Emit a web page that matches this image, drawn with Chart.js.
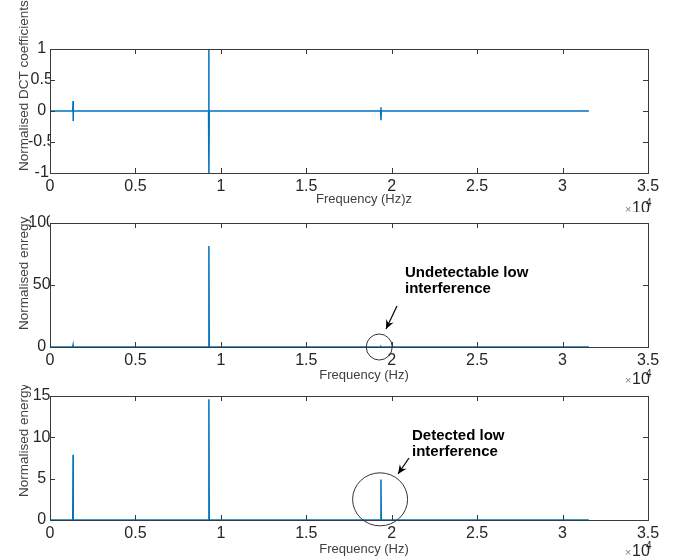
<!DOCTYPE html>
<html><head><meta charset="utf-8">
<script src="https://cdn.jsdelivr.net/npm/chart.js@4.4.1/dist/chart.umd.min.js"></script>
<style>
html,body{margin:0;padding:0;background:#fff;}
#wrap{position:relative;width:680px;height:560px;overflow:hidden;background:#fff;}
canvas{position:absolute;left:0;}
</style></head><body>
<div id="wrap">
<canvas id="c1" width="680" height="212" style="top:0px;width:680px;height:212px"></canvas>
<canvas id="c2" width="680" height="173" style="top:212px;width:680px;height:173px"></canvas>
<canvas id="c3" width="680" height="175" style="top:385px;width:680px;height:175px"></canvas>
</div>
<script>
// ---- data (frequency in Hz; axis shown in units of 10^4) ----
const freqHz           = [0, 1330, 1350, 1350, 1370, 9280, 9300, 9300, 9320, 19350, 19370, 19370, 19390, 31540];
const dctCoeff         = [0, 0, 0.16, -0.16, 0, 0, 1, -1, 0, 0, 0.06, -0.15, 0, 0];
const energyUndetected = [0, 0, 1.5, 1.5, 0, 0, 81.5, 81.5, 0, 0, 0.3, 0.3, 0, 0];
const energyDetected   = [0, 0, 7.9, 7.9, 0, 0, 14.6, 14.6, 0, 0, 4.9, 4.9, 0, 0];
const xTickValues = [0, 5000, 10000, 15000, 20000, 25000, 30000, 35000];
const xTickLabels = ['0', '0.5', '1', '1.5', '2', '2.5', '3', '3.5'];
const yTicksDct = [-1, -0.5, 0, 0.5, 1];
const yTicksEnergy1 = [0, 50, 100];
const yTicksEnergy2 = [0, 5, 10, 15];

const FONT = "'Liberation Sans', Arial, Helvetica, sans-serif";
const LINE = '#0072BD';
const AX = '#3a3a3a';

function decor(cfg) {
  return {
    id: 'decor',
    afterDraw(chart) {
      const ctx = chart.ctx, a = chart.chartArea;
      const xs = chart.scales.x, ys = chart.scales.y;
      ctx.save();
      ctx.strokeStyle = AX; ctx.lineWidth = 1;
      ctx.strokeRect(Math.round(a.left) + 0.5, Math.round(a.top) + 0.5, Math.round(a.right - a.left), Math.round(a.bottom - a.top));
      ctx.beginPath();
      xTickValues.forEach(v => {
        const px = Math.round(xs.getPixelForValue(v)) + 0.5;
        ctx.moveTo(px, a.bottom); ctx.lineTo(px, a.bottom - 5);
        ctx.moveTo(px, a.top); ctx.lineTo(px, a.top + 5);
      });
      cfg.yTicks.forEach(v => {
        const py = Math.round(ys.getPixelForValue(v)) + 0.5;
        ctx.moveTo(a.left, py); ctx.lineTo(a.left + 5, py);
        ctx.moveTo(a.right, py); ctx.lineTo(a.right - 5, py);
      });
      ctx.stroke();
      // y title
      ctx.fillStyle = '#404040';
      ctx.font = '13.5px ' + FONT;
      ctx.save();
      ctx.translate(28, cfg.yTitleBottom);
      ctx.rotate(-Math.PI / 2);
      ctx.textAlign = 'left'; ctx.textBaseline = 'alphabetic';
      ctx.fillText(cfg.yTitle, 0, 0);
      ctx.restore();
      // x title
      ctx.font = '13px ' + FONT;
      ctx.textAlign = 'center'; ctx.textBaseline = 'middle';
      ctx.fillText(cfg.xTitle, 364, a.bottom + cfg.xTitleOff);
      // x10^4 exponent
      const ey = a.bottom + cfg.expOff;
      ctx.textAlign = 'left';
      ctx.fillStyle = '#808080'; ctx.font = '11px ' + FONT;
      ctx.fillText('\u00d7', 625, ey + 1);
      ctx.fillStyle = '#262626'; ctx.font = '16px ' + FONT;
      ctx.fillText('10', 632, ey);
      ctx.font = '10px ' + FONT;
      ctx.fillText('4', 646, ey - 6);
      // annotation
      if (cfg.note) {
        const n = cfg.note;
        ctx.fillStyle = '#000';
        ctx.font = 'bold 15px ' + FONT;
        ctx.textAlign = 'left'; ctx.textBaseline = 'middle';
        ctx.fillText(n.lines[0], n.tx, n.ty);
        ctx.fillText(n.lines[1], n.tx, n.ty + 15.5);
        const cx = xs.getPixelForValue(n.cx), cy = ys.getPixelForValue(n.cy);
        ctx.strokeStyle = '#333'; ctx.lineWidth = 1;
        ctx.beginPath(); ctx.ellipse(cx, cy, n.rx, n.ry, 0, 0, Math.PI * 2); ctx.stroke();
        // arrow
        const [x1, y1, x2, y2] = n.arrow;
        ctx.strokeStyle = '#000'; ctx.lineWidth = 1.2;
        ctx.beginPath(); ctx.moveTo(x1, y1); ctx.lineTo(x2, y2); ctx.stroke();
        const ang = Math.atan2(y2 - y1, x2 - x1), L = 10, W = 0.42;
        ctx.fillStyle = '#000';
        ctx.beginPath();
        ctx.moveTo(x2, y2);
        ctx.lineTo(x2 - L * Math.cos(ang - W), y2 - L * Math.sin(ang - W));
        ctx.lineTo(x2 - L * 0.6 * Math.cos(ang), y2 - L * 0.6 * Math.sin(ang));
        ctx.lineTo(x2 - L * Math.cos(ang + W), y2 - L * Math.sin(ang + W));
        ctx.closePath(); ctx.fill();
      }
      ctx.restore();
    }
  };
}

function build(id, cfg) {
  const canvas = document.getElementById(id);
  const H = canvas.height;
  return new Chart(canvas, {
    type: 'line',
    data: { datasets: [{
      data: freqHz.map((x, i) => ({ x: x, y: cfg.values[i] })),
      borderColor: LINE, borderWidth: 1.5, pointRadius: 0, tension: 0, fill: false
    }] },
    options: {
      responsive: false, animation: false, events: [],
      layout: { padding: { left: 0, right: 32, top: cfg.top, bottom: 0 } },
      plugins: { legend: { display: false }, tooltip: { enabled: false } },
      scales: {
        x: {
          type: 'linear', min: 0, max: 35000,
          grid: { display: false, drawTicks: false }, border: { display: false },
          afterBuildTicks(s) { s.ticks = xTickValues.map(v => ({ value: v })); },
          ticks: { padding: 4, color: '#262626', font: { family: FONT, size: 16 }, maxRotation: 0, autoSkip: false,
            callback: (v) => xTickLabels[xTickValues.indexOf(v)] },
          afterFit(s) { s.height = H - cfg.bottom; }
        },
        y: {
          type: 'linear', min: cfg.yTicks[0], max: cfg.yTicks[cfg.yTicks.length - 1],
          grid: { display: false, drawTicks: false }, border: { display: false },
          afterBuildTicks(s) { s.ticks = cfg.yTicks.map(v => ({ value: v })); },
          ticks: { padding: cfg.yPad, crossAlign: 'center', color: '#262626', font: { family: FONT, size: 16 }, autoSkip: false,
            callback: (v) => String(v) },
          afterFit(s) { s.width = 50; }
        }
      }
    },
    plugins: [decor(cfg)]
  });
}

build('c1', { values: dctCoeff, yTicks: yTicksDct, top: 49, bottom: 173, yPad: -5.5,
  yTitle: 'Normalised DCT coefficients', yTitleBottom: 171, xTitle: 'Frequency (Hz)z', xTitleOff: 26, expOff: 36 });
build('c2', { values: energyUndetected, yTicks: yTicksEnergy1, top: 11, bottom: 135, yPad: -5,
  yTitle: 'Normalised enregy', yTitleBottom: 118, xTitle: 'Frequency (Hz)', xTitleOff: 28, expOff: 33,
  note: { lines: ['Undetectable low', 'interference'], tx: 405, ty: 61, cx: 19270, cy: 0, rx: 13, ry: 13,
          arrow: [397, 94, 386, 117] } });
build('c3', { values: energyDetected, yTicks: yTicksEnergy2, top: 11, bottom: 135, yPad: -0.5,
  yTitle: 'Normalised energy', yTitleBottom: 112, xTitle: 'Frequency (Hz)', xTitleOff: 29, expOff: 32,
  note: { lines: ['Detected low', 'interference'], tx: 412, ty: 51, cx: 19320, cy: 2.5, rx: 27.5, ry: 26.5,
          arrow: [409, 73, 398, 89] } });
</script>
</body></html>
